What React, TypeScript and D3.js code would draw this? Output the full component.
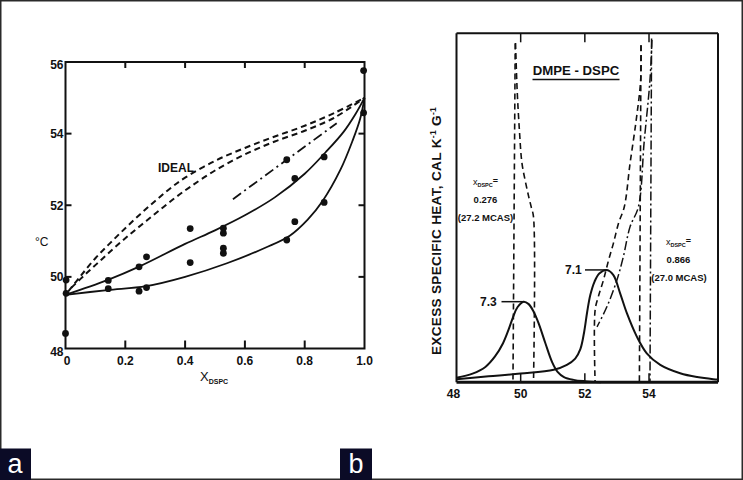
import React from 'react';
import * as d3 from 'd3';

type P = [number, number];

// ---------- Panel a data ----------
const xTicksA = [0, 0.2, 0.4, 0.6, 0.8, 1.0];
const xTickLabelsA = ['0', '0.2', '0.4', '0.6', '0.8', '1.0'];
const yTicksA = [48, 50, 52, 54, 56];

const idealUpper: P[] = [[0.01, 49.6], [0.05, 50.02], [0.1, 50.52], [0.15, 50.95], [0.2, 51.36], [0.25, 51.75], [0.3, 52.12], [0.35, 52.47], [0.4, 52.77], [0.5, 53.24], [0.6, 53.6], [0.7, 53.92], [0.8, 54.22], [0.9, 54.58], [1.0, 55.0]];
const idealLower: P[] = [[0.02, 49.7], [0.07, 50.1], [0.12, 50.48], [0.17, 50.86], [0.22, 51.22], [0.27, 51.56], [0.32, 51.9], [0.37, 52.23], [0.42, 52.53], [0.5, 52.97], [0.6, 53.42], [0.7, 53.78], [0.8, 54.08], [0.9, 54.45], [1.0, 55.0]];
const liquidus: P[] = [[0, 49.5], [0.14, 49.91], [0.25, 50.3], [0.4, 50.92], [0.5, 51.3], [0.6, 51.72], [0.7, 52.22], [0.8, 52.88], [0.87, 53.48], [0.93, 54.05], [0.97, 54.55], [1.0, 55.0]];
const solidus: P[] = [[0, 49.5], [0.14, 49.63], [0.27, 49.74], [0.4, 50.0], [0.54, 50.38], [0.67, 50.82], [0.75, 51.15], [0.81, 51.6], [0.86, 52.12], [0.92, 53.0], [0.96, 53.8], [0.985, 54.4], [1.0, 55.0]];
const dashDotA: P[] = [[0.56, 52.17], [0.907, 54.29]];
const pointsA: P[] = [
  [0.997, 55.76], [0.997, 54.58], [0.74, 53.27], [0.865, 53.35], [0.767, 52.75], [0.865, 52.08],
  [0.767, 51.54], [0.74, 51.03], [0.417, 51.35], [0.417, 50.4], [0.528, 51.36], [0.528, 51.22],
  [0.528, 50.8], [0.528, 50.66], [0.271, 50.56], [0.246, 50.28], [0.246, 49.6], [0.271, 49.7],
  [0.143, 49.9], [0.143, 49.67], [0.002, 49.91], [0.002, 49.54], [0.0, 48.42],
];

// ---------- Panel b data ----------
const xTicksB = [48, 50, 52, 54];
const peak0276: P[] = [[48.0, 0.13], [48.5, 0.25], [48.9, 0.44], [49.2, 0.74], [49.45, 1.12], [49.62, 1.5], [49.76, 1.86], [49.9, 2.15], [50.09, 2.31], [50.25, 2.24], [50.4, 2.03], [50.56, 1.69], [50.77, 1.12], [50.98, 0.58], [51.15, 0.3], [51.35, 0.15], [51.65, 0.07], [52.0, 0.03], [52.5, 0.0]];
const peak0866: P[] = [[48.0, 0.09], [49.0, 0.17], [50.0, 0.25], [51.03, 0.36], [51.44, 0.5], [51.7, 0.68], [51.86, 0.95], [51.98, 1.45], [52.07, 2.0], [52.17, 2.5], [52.3, 2.88], [52.45, 3.12], [52.69, 3.22], [52.89, 3.07], [53.1, 2.55], [53.31, 1.98], [53.62, 1.31], [53.93, 0.83], [54.35, 0.5], [54.97, 0.26], [55.5, 0.15], [56.0, 0.09], [56.15, 0.08]];
const dashL1: P[] = [[49.83, 9.71], [49.76, 0]];
const dashL2: P[] = [[49.84, 9.72], [49.89, 8.38], [49.96, 7.23], [50.04, 6.28], [50.15, 5.74], [50.25, 5.32], [50.33, 5.02], [50.4, 4.74], [50.4, 0]];
const dashR1: P[] = [[53.75, 9.66], [53.7, 0]];
const dashR2: P[] = [[53.75, 9.66], [53.74, 8.66], [53.6, 7.51], [53.41, 6.28], [53.23, 5.03], [53.05, 4.56], [52.89, 3.98], [52.74, 3.5], [52.58, 2.93], [52.42, 2.45], [52.32, 2.07], [52.32, 0]];
const dashDotR3: P[] = [[54.09, 9.81], [54.03, 8.66], [53.85, 6.9], [53.67, 5.03], [53.41, 4.46], [53.2, 3.6], [53.0, 2.93], [52.69, 2.17], [52.38, 1.59]];
const dashDotR4: P[] = [[54.08, 9.85], [54.03, 0]];

const FONT = "'Liberation Sans', Arial, Helvetica, sans-serif";

export default function App() {
  // panel a scales
  const xA = d3.scaleLinear().domain([0, 1]).range([65.5, 364.5]);
  const yA = d3.scaleLinear().domain([48, 56]).range([348.5, 62]);
  const lineA = d3.line<P>().x(d => xA(d[0])).y(d => yA(d[1])).curve(d3.curveCatmullRom.alpha(0.5));
  const lineAlin = d3.line<P>().x(d => xA(d[0])).y(d => yA(d[1]));

  // panel b scales
  const xB = d3.scaleLinear().domain([48, 56.15]).range([456.5, 718]);
  const yB = d3.scaleLinear().domain([0, 10]).range([382.3, 33.3]);
  const lineB = d3.line<P>().x(d => xB(d[0])).y(d => yB(d[1])).curve(d3.curveCatmullRom.alpha(0.5));
  const lineBlin = d3.line<P>().x(d => xB(d[0])).y(d => yB(d[1]));

  const [ax0, ax1] = xA.range();
  const [ay0, ay1] = yA.range();
  const [bx0, bx1] = xB.range();
  const [by0, by1] = yB.range();

  return (
    <svg width={743} height={480} style={{ position: 'absolute', left: 0, top: 0, background: '#fff' }} fontFamily={FONT}>
      <rect x={0} y={0} width={743} height={480} fill="#fff" />
      <rect x={0.75} y={0.75} width={741.5} height={478.5} fill="none" stroke="#2a2a2a" strokeWidth={1.5} />

      {/* ---------------- Panel a ---------------- */}
      <g>
        <rect x={ax0} y={ay1} width={ax1 - ax0} height={ay0 - ay1} fill="none" stroke="#111" strokeWidth={2} />
        {xTicksA.slice(1, -1).map(t => (
          <g key={'xt' + t}>
            <line x1={xA(t)} x2={xA(t)} y1={ay0} y2={ay0 - 8} stroke="#111" strokeWidth={2} />
            <line x1={xA(t)} x2={xA(t)} y1={ay1} y2={ay1 + 6} stroke="#111" strokeWidth={2} />
          </g>
        ))}
        {yTicksA.slice(1, -1).map(t => (
          <g key={'yt' + t}>
            <line x1={ax0} x2={ax0 + 6} y1={yA(t)} y2={yA(t)} stroke="#111" strokeWidth={2} />
            <line x1={ax1} x2={ax1 - 6} y1={yA(t)} y2={yA(t)} stroke="#111" strokeWidth={2} />
          </g>
        ))}
        {xTicksA.map((t, i) => (
          <text key={'xl' + t} x={xA(t) + (i === 0 ? 1.5 : 0)} y={ay0 + 16} textAnchor="middle" fontSize={12} fontWeight="bold" fill="#111">{xTickLabelsA[i]}</text>
        ))}
        {yTicksA.map(t => (
          <text key={'yl' + t} x={ax0 - 2} y={yA(t) + (t === 48 ? 7 : t === 56 ? 7 : 4.5)} textAnchor="end" fontSize={12} fontWeight="bold" fill="#111">{t}</text>
        ))}
        <text x={200} y={380.5} fontSize={13} fill="#111">X<tspan fontSize={7} fontWeight="bold" dy={3}>DSPC</tspan></text>
        <text x={35} y={246} fontSize={12} fill="#111">°C</text>
        <text x={158} y={171.5} fontSize={12} fontWeight="bold" fill="#111">IDEAL</text>

        <path d={lineA(idealUpper) || ''} fill="none" stroke="#111" strokeWidth={2} strokeDasharray="6,4" />
        <path d={lineA(idealLower) || ''} fill="none" stroke="#111" strokeWidth={2} strokeDasharray="6,4" />
        <path d={lineA(liquidus) || ''} fill="none" stroke="#111" strokeWidth={1.8} />
        <path d={lineA(solidus) || ''} fill="none" stroke="#111" strokeWidth={1.8} />
        <path d={lineAlin(dashDotA) || ''} fill="none" stroke="#111" strokeWidth={1.8} strokeDasharray="10,4,2,4" />
        {pointsA.map((p, i) => (
          <circle key={'pt' + i} cx={xA(p[0])} cy={yA(p[1])} r={3.4} fill="#111" />
        ))}
      </g>

      {/* ---------------- Panel b ---------------- */}
      <g>
        <line x1={bx0} x2={bx1} y1={by0} y2={by0} stroke="#111" strokeWidth={3} />
        <line x1={bx0} x2={bx1} y1={by1} y2={by1} stroke="#111" strokeWidth={2} />
        <line x1={bx0} x2={bx0} y1={by1} y2={by0} stroke="#111" strokeWidth={2} />
        <line x1={bx1} x2={bx1} y1={by1} y2={by0} stroke="#111" strokeWidth={2} />
        {xTicksB.slice(1).map(t => (
          <g key={'bt' + t}>
            <line x1={xB(t)} x2={xB(t)} y1={by0} y2={by0 - 9} stroke="#111" strokeWidth={1.5} />
            <line x1={xB(t)} x2={xB(t)} y1={by1} y2={by1 + 9} stroke="#111" strokeWidth={1.5} />
          </g>
        ))}
        {xTicksB.map(t => (
          <text key={'bl' + t} x={xB(t) - (t === 48 ? 3 : 0)} y={397.5} textAnchor="middle" fontSize={12} fontWeight="bold" fill="#111">{t}</text>
        ))}
        <text transform="translate(440.5,231) rotate(-90)" textAnchor="middle" fontSize={13.6} letterSpacing={0.3} fontWeight="bold" fill="#111">
          EXCESS SPECIFIC HEAT, CAL K<tspan fontSize={8.5} dy={-5}>-1</tspan><tspan dy={5}> G</tspan><tspan fontSize={8.5} dy={-5}>-1</tspan>
        </text>
        <text x={576} y={75} textAnchor="middle" fontSize={13.2} fontWeight="bold" fill="#111">DMPE - DSPC</text>
        <line x1={532.5} x2={619.5} y1={79.5} y2={79.5} stroke="#111" strokeWidth={1.5} />

        <text x={485.5} y={184.5} textAnchor="middle" fontSize={9} fill="#111">x<tspan fontSize={5.5} dy={2} fontWeight="bold">DSPC</tspan><tspan dy={-3} fontWeight="bold">=</tspan></text>
        <text x={485.5} y={202.5} textAnchor="middle" fontSize={9.5} fontWeight="bold" fill="#111">0.276</text>
        <text x={485.5} y={220.7} textAnchor="middle" fontSize={9.5} fontWeight="bold" fill="#111">(27.2 MCAS)</text>
        <text x={678.5} y={244.5} textAnchor="middle" fontSize={9} fill="#111">x<tspan fontSize={5.5} dy={2} fontWeight="bold">DSPC</tspan><tspan dy={-3} fontWeight="bold">=</tspan></text>
        <text x={678.5} y={262.7} textAnchor="middle" fontSize={9.5} fontWeight="bold" fill="#111">0.866</text>
        <text x={679} y={280.7} textAnchor="middle" fontSize={9.5} fontWeight="bold" fill="#111">(27.0 MCAS)</text>

        <text x={496.7} y={306} textAnchor="end" fontSize={12} fontWeight="bold" fill="#111">7.3</text>
        <line x1={501.5} x2={xB(50.09)} y1={yB(2.31)} y2={yB(2.31)} stroke="#111" strokeWidth={1.5} />
        <text x={581.7} y={273.7} textAnchor="end" fontSize={12} fontWeight="bold" fill="#111">7.1</text>
        <line x1={585} x2={xB(52.69)} y1={yB(3.22)} y2={yB(3.22)} stroke="#111" strokeWidth={1.5} />

        <path d={lineBlin(dashL1) || ''} fill="none" stroke="#111" strokeWidth={1.6} strokeDasharray="6,4" />
        <path d={lineB(dashL2) || ''} fill="none" stroke="#111" strokeWidth={1.6} strokeDasharray="6,4" />
        <path d={lineBlin(dashR1) || ''} fill="none" stroke="#111" strokeWidth={1.6} strokeDasharray="6,4" />
        <path d={lineB(dashR2) || ''} fill="none" stroke="#111" strokeWidth={1.6} strokeDasharray="6,4" />
        <path d={lineB(dashDotR3) || ''} fill="none" stroke="#111" strokeWidth={1.5} strokeDasharray="9,3,2,3" />
        <path d={lineBlin(dashDotR4) || ''} fill="none" stroke="#111" strokeWidth={1.5} strokeDasharray="9,3,2,3" />
        <path d={lineB(peak0276) || ''} fill="none" stroke="#111" strokeWidth={2} />
        <path d={lineB(peak0866) || ''} fill="none" stroke="#111" strokeWidth={2} />
      </g>

      {/* panel letters */}
      <rect x={0} y={448.5} width={31} height={31.5} fill="#0b0b26" />
      <text x={15} y={473} textAnchor="middle" fontSize={27} fill="#fff">a</text>
      <rect x={340} y={448.5} width={32} height={31.5} fill="#0b0b26" />
      <text x={356} y={473} textAnchor="middle" fontSize={27} fill="#fff">b</text>
    </svg>
  );
}
